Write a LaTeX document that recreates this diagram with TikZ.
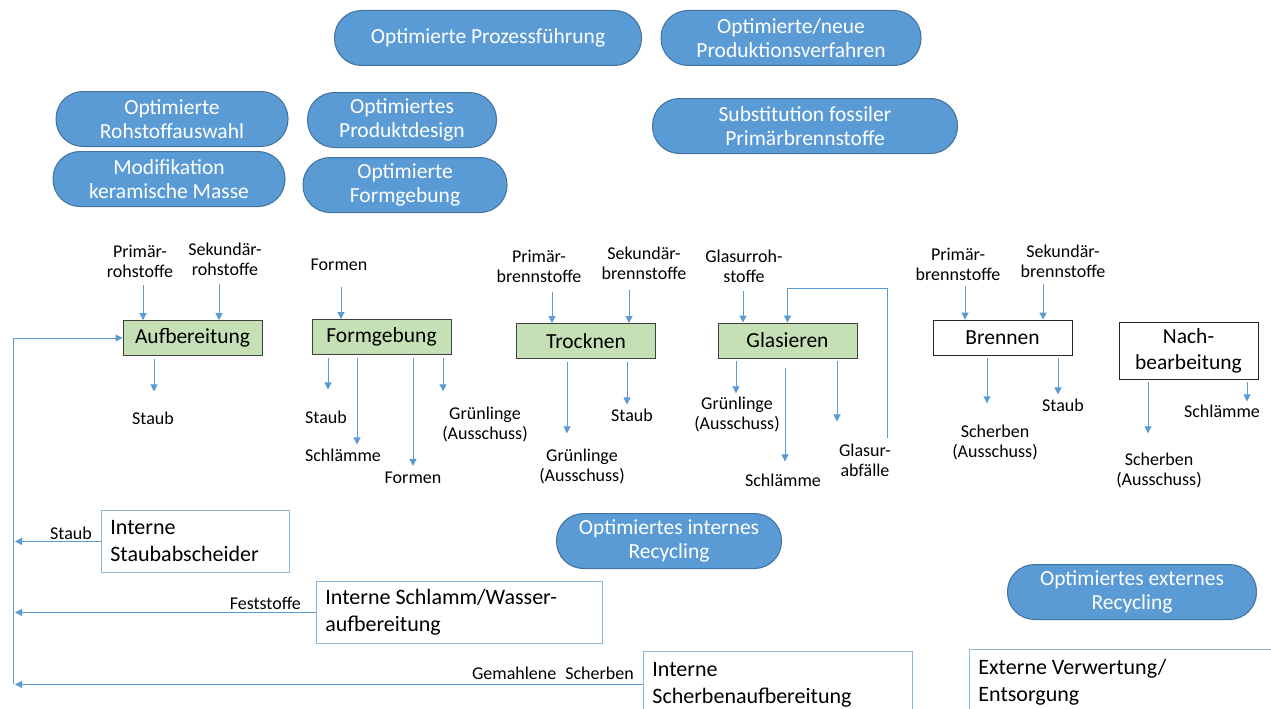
\documentclass[tikz,border=0pt]{standalone}
\usepackage{fontspec}
\setmainfont{Carlito}
\setsansfont{Carlito}
\usetikzlibrary{positioning,arrows.meta}
\definecolor{ov1}{RGB}{91,155,213}
\definecolor{ov2}{RGB}{65,113,156}
\definecolor{pb1}{RGB}{197,224,180}
\definecolor{pb2}{RGB}{64,64,64}
\definecolor{ar1}{RGB}{91,155,213}
\definecolor{rbl}{RGB}{140,182,220}

\begin{document}
\begin{tikzpicture}[
    x=1pt, y=-1pt,
    font=\sffamily,
    ov/.style={
        draw=ov2, fill=ov1, text=white, line width=1pt,
        rounded corners=27pt, minimum height=55pt,
        align=center, inner sep=2pt,
        font=\sffamily\fontsize{21.5}{24}\selectfont
    },
    pb/.style={
        draw=pb2, fill=pb1, line width=0.9pt,
        minimum width=139pt, minimum height=35pt, align=center,
        font=\sffamily\fontsize{21.5}{26}\selectfont
    },
    wb/.style={pb, fill=white, draw=black!85},
    rb/.style={
        draw=rbl, line width=0.8pt, anchor=north west,
        align=flush left, inner xsep=9pt,
        font=\sffamily\fontsize{22}{27}\selectfont
    },
    sm/.style={
        align=center, inner sep=1pt,
        font=\sffamily\fontsize{18}{20}\selectfont
    },
    ar/.style={
        -{Triangle[width=7pt,length=7pt]}, draw=ar1, line width=1pt,
        shorten <=3pt
    },
    fb/.style={draw=ar1, line width=1pt}
]
\clip (0,0) rectangle (1271,709);

% Massnahmen
\node [ov, minimum width=307pt] (prz) at (488,38) {Optimierte Prozessführung};
\node [ov, minimum width=260pt] (neu) at (791,38) {Optimierte/neue\\Produktionsverfahren};
\node [ov, minimum width=232pt] (roh) at (172,119) {Optimierte\\Rohstoffauswahl};
\node [ov, minimum width=232pt] (mod) at (169,179) {Modifikation\\keramische Masse};
\node [ov, minimum width=189pt] (pdd) at (402,120) {Optimiertes\\Produktdesign};
\node [ov, minimum width=204pt] (ofg) at (405,185) {Optimierte\\Formgebung};
\node [ov, minimum width=305pt] (sub) at (805,126) {Substitution fossiler\\Primärbrennstoffe};
\node [ov, minimum width=225pt] (irc) at (669,541) {Optimiertes internes\\Recycling};
\node [ov, minimum width=249pt] (erc) at (1132,592) {Optimiertes externes\\Recycling};

% Prozessschritte
\node [pb] (auf) at (192.5,338) {Aufbereitung};
\node [pb] (fg) at (381.5,337) {Formgebung};
\node [pb] (tr) at (586,341) {Trocknen};
\node [pb] (gl) at (787.5,340.5) {Glasieren};
\node [wb] (br) at (1002.5,337.5) {Brennen};
\node [wb, minimum height=57pt] (nb) at (1188.5,350.5) {Nach-\\bearbeitung};

% Eingaenge
\node [sm] (p1) at (140,261) {Primär-\\rohstoffe};
\node [sm] (s1) at (225,259) {Sekundär-\\rohstoffe};
\node [sm] (f1) at (339,265) {Formen};
\node [sm] (p3) at (539,266) {Primär-\\brennstoffe};
\node [sm] (s3) at (644,263) {Sekundär-\\brennstoffe};
\node [sm] (gr4) at (744,266) {Glasurroh-\\stoffe};
\node [sm] (p5) at (958,264) {Primär-\\brennstoffe};
\node [sm] (s5) at (1063,261) {Sekundär-\\brennstoffe};

\draw [ar, shorten <=7pt] ([xshift=3pt]p1.south) -- ([xshift=-49.5pt]auf.north);
\draw [ar, shorten <=7pt] ([xshift=-6pt]s1.south) -- ([xshift=26.5pt]auf.north);
\draw [ar, shorten <=15pt] ([xshift=2pt]f1.south) -- ([xshift=-40.5pt]fg.north);
\draw [ar, shorten <=9pt] ([xshift=13pt]p3.south) -- ([xshift=-34pt]tr.north);
\draw [ar, shorten <=9pt] ([xshift=-15pt]s3.south) -- ([xshift=43pt]tr.north);
\draw [ar, shorten <=7pt] ([xshift=-1pt]gr4.south) -- ([xshift=-44.5pt]gl.north);
\draw [ar, shorten <=5pt] ([xshift=7pt]p5.south) -- ([xshift=-37.5pt]br.north);
\draw [ar, shorten <=5pt] ([xshift=-20pt]s5.south) -- ([xshift=40.5pt]br.north);

% Ausgaenge
\node [sm] (st1) at (153,418) {Staub};
\node [sm] (st2) at (326,417) {Staub};
\node [sm] (sl2) at (343,455) {Schlämme};
\node [sm] (f2) at (413,478) {Formen};
\node [sm] (g2) at (485,424) {Grünlinge\\(Ausschuss)};
\node [sm] (g3) at (582,466) {Grünlinge\\(Ausschuss)};
\node [sm] (st3) at (632,415) {Staub};
\node [sm] (g4) at (737,414) {Grünlinge\\(Ausschuss)};
\node [sm] (sl4) at (783,480) {Schlämme};
\node [sm] (ga4) at (865,460) {Glasur-\\abfälle};
\node [sm] (sc5) at (995,442) {Scherben\\(Ausschuss)};
\node [sm] (st5) at (1063,405) {Staub};
\node [sm] (sc6) at (1159,470) {Scherben\\(Ausschuss)};
\node [sm] (sl6) at (1222,411) {Schlämme};

\draw [ar, shorten >=19pt] ([xshift=-38.5pt]auf.south) -- ([xshift=1pt]st1.north);
\draw [ar, shorten >=20pt] ([xshift=-53.5pt]fg.south) -- ([xshift=2pt]st2.north);
\draw [ar, shorten >=3pt] ([xshift=-24.5pt]fg.south) -- ([xshift=14pt]sl2.north);
\draw [ar, shorten >=5pt] ([xshift=31.5pt]fg.south) -- (f2.north);
\draw [ar, shorten >=14pt] ([xshift=61.5pt]fg.south) -- ([xshift=-42pt]g2.north);
\draw [ar, shorten >=14pt] ([xshift=-19pt]tr.south) -- ([xshift=-15pt]g3.north);
\draw [ar, shorten >=3pt] ([xshift=41pt]tr.south) -- ([xshift=-5pt]st3.north);
\draw [ar, shorten >=2pt] ([xshift=-51.5pt]gl.south) -- ([xshift=-1pt]g4.north);
\draw [ar, shorten <=10pt, shorten >=11pt] ([xshift=-2.5pt]gl.south) -- ([xshift=2pt]sl4.north);
\draw [ar, shorten >=21pt] ([xshift=49.5pt]gl.south) -- ([xshift=-28pt]ga4.north);
\draw [ar, shorten >=20pt] ([xshift=-15.5pt]br.south) -- ([xshift=-8pt]sc5.north);
\draw [ar, shorten >=3pt] ([xshift=55.5pt]br.south) -- ([xshift=-5pt]st5.north);
\draw [ar, shorten >=18pt] ([xshift=-40.5pt]nb.south) -- ([xshift=-11pt]sc6.north);
\draw [ar, shorten >=2pt] ([xshift=58.5pt]nb.south) -- ([xshift=25pt]sl6.north);

% Glasur zurueck
\coordinate (lp) at (887,288);
\draw [ar, shorten <=4pt] ([xshift=22pt]ga4.north) -- (lp) -| (gl.north);

% interne Rueckfuehrung
\node [rb, text width=170pt, minimum height=62pt] (dust) at (101,510) {Interne\\Staubabscheider};
\node [rb, text width=268pt, minimum height=62pt] (sludge) at (316,581) {Interne Schlamm/Wasser-\\aufbereitung};
\node [rb, text width=251pt, minimum height=66pt] (shards) at (643,651) {Interne\\Scherbenaufbereitung};
\node [rb, text width=302pt, minimum height=66pt] (ext) at (969,649) {Externe Verwertung/\\Entsorgung};

\node [sm, above left=1pt and 8pt of dust.west] (l1) {Staub};
\node [sm, above left=2pt and 14pt of sludge.west] (l2) {Feststoffe};
\node [sm, above left=4pt and 8pt of shards.west] (l3) {Gemahlene\enspace Scherben};

\coordinate (ret) at (13,684);
\draw [ar, shorten <=0pt] (ret) |- (auf.west);
\draw [ar, shorten <=0pt, shorten >=2pt] (dust.west) -- (dust.west -| ret);
\draw [ar, shorten <=0pt, shorten >=2pt] (sludge.west) -- (sludge.west -| ret);
\draw [ar, shorten <=0pt, shorten >=2pt] (shards.west) -- (shards.west -| ret);

\end{tikzpicture}
\end{document}
